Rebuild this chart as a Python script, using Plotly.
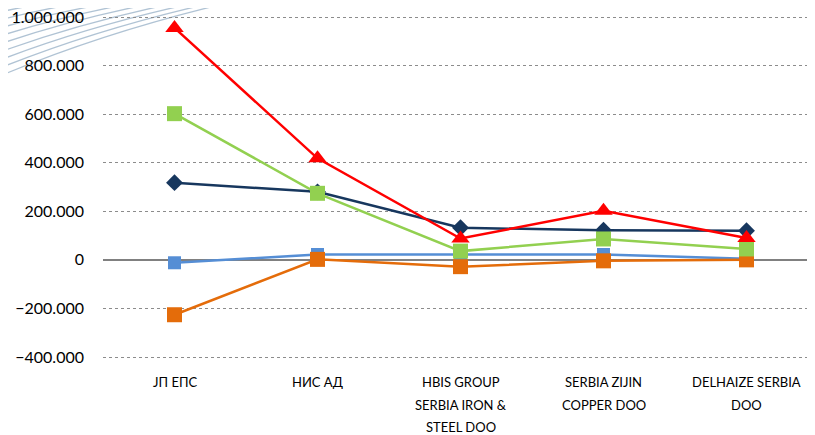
import plotly.graph_objects as go

categories = [["ЈП ЕПС"], ["НИС АД"], ["HBIS GROUP", "SERBIA IRON &", "STEEL DOO"],
              ["SERBIA ZIJIN", "COPPER DOO"], ["DELHAIZE SERBIA", "DOO"]]

navy_vals = [318000, 280000, 132000, 122000, 120000]
blue_vals = [-12000, 22000, 22000, 22000, 5000]
orange_vals = [-226000, 2000, -28000, -4000, 0]
green_vals = [602000, 274000, 36000, 86000, 45000]
red_vals = [955000, 418000, 88000, 202000, 90000]

y_ticks = [-400000, -200000, 0, 200000, 400000, 600000, 800000, 1000000]

series = [
    ("navy", navy_vals, "#17375E", "diamond", 13),
    ("blue", blue_vals, "#558ED5", "square", 13),
    ("orange", orange_vals, "#E46C0A", "square", 15),
    ("green", green_vals, "#92D050", "square", 15),
    ("red", red_vals, "#FF0000", "triangle-up", 16),
]

xs = list(range(len(categories)))
fig = go.Figure()
for name, vals, col, sym, size in series:
    fig.add_trace(go.Scatter(
        x=xs, y=vals, name=name, mode="lines+markers",
        line=dict(color=col, width=2.5),
        marker=dict(symbol=sym, size=size, color=col, line=dict(width=0)),
        cliponaxis=False, showlegend=False,
    ))

# page body has an 8px margin: work in figure pixels = window pixels - 8
OFF = 8
FW, FH = 815 - OFF, 435 - OFF
L, R, T, B = 103 - OFF, 815 - OFF, 15 - OFF, 359 - OFF
W, H = R - L, B - T

def px(x):
    return (x - OFF - L) / W

def py(y):
    return (B - (y - OFF)) / H

# value range padded by ~2px each side so the end gridlines stay visible
per_px = 1400000 / 340
y_range = [-400000 - 2 * per_px, 1000000 + 2 * per_px]

# decorative swoosh lines in top-left corner (window pixel coords)
shapes = []
for sy, ex in [(4, 35), (12, 70), (20, 100), (28, 128), (36, 150), (44, 170),
               (52, 190), (60, 208), (68, 225), (76, 240)]:
    shapes.append(dict(type="path", xref="paper", yref="paper", layer="below",
                       path=f"M {px(0)},{py(sy)} Q {px(ex*0.45)},{py(sy*0.4)} {px(ex)},{py(0)}",
                       line=dict(color="rgba(150,175,198,0.75)", width=1.3)))

# category labels as annotations placed on the category axis
annotations = []
for i, lines in enumerate(categories):
    for j, txt in enumerate(lines):
        annotations.append(dict(
            x=i, xref="x", y=py(382 + 22.5 * j), yref="paper", text=txt,
            showarrow=False, xanchor="center", yanchor="middle",
            font=dict(family="Lato, sans-serif", size=13, color="#000000"),
        ))

fig.update_layout(
    width=FW, height=FH,
    margin=dict(l=L, r=0, t=T, b=FH - B),
    paper_bgcolor="white", plot_bgcolor="rgba(0,0,0,0)",
    separators=",.",
    font=dict(family="Lato, Calibri, sans-serif", size=16, color="#000000"),
    shapes=shapes,
    annotations=annotations,
    xaxis=dict(
        range=[-0.5, W / 143 - 0.5], showgrid=False, zeroline=False,
        showline=False, ticks="", showticklabels=False, automargin=False,
    ),
    yaxis=dict(
        range=y_range, tickvals=y_ticks, tickformat=",.0f",
        showgrid=True, gridcolor="#8c8c8c", griddash="dot", gridwidth=1,
        zeroline=True, zerolinecolor="#808080", zerolinewidth=2,
        showline=False, ticks="", ticklabelstandoff=18, automargin=False,
        ticklabeloverflow="allow",
    ),
)

fig.write_html("out.html")
